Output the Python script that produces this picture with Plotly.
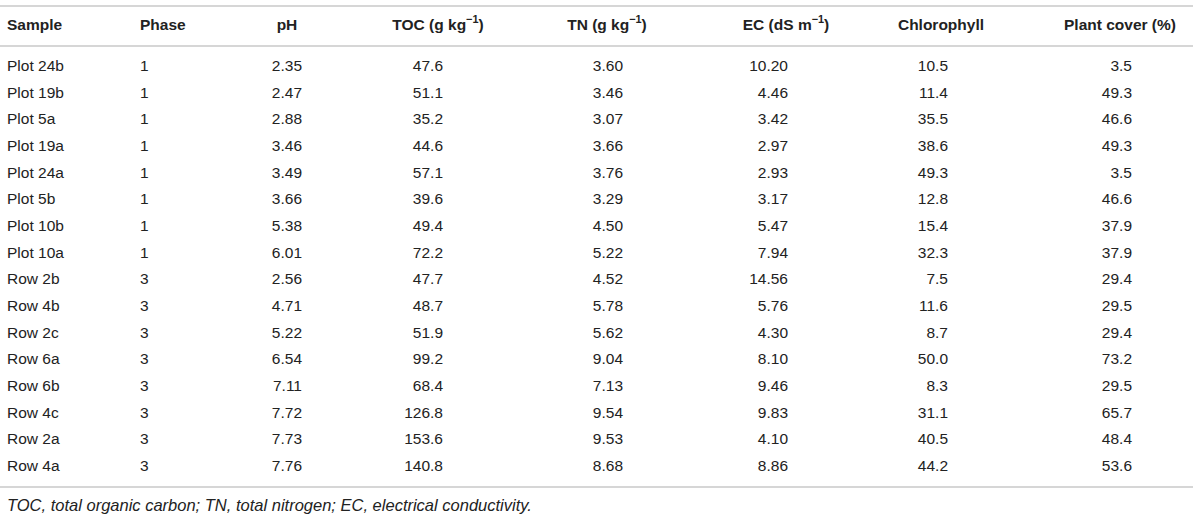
import plotly.graph_objects as go

samples = ['Plot 24b', 'Plot 19b', 'Plot 5a', 'Plot 19a', 'Plot 24a', 'Plot 5b', 'Plot 10b', 'Plot 10a',
           'Row 2b', 'Row 4b', 'Row 2c', 'Row 6a', 'Row 6b', 'Row 4c', 'Row 2a', 'Row 4a']
phase = ['1', '1', '1', '1', '1', '1', '1', '1', '3', '3', '3', '3', '3', '3', '3', '3']
ph = ['2.35', '2.47', '2.88', '3.46', '3.49', '3.66', '5.38', '6.01',
      '2.56', '4.71', '5.22', '6.54', '7.11', '7.72', '7.73', '7.76']
toc = ['47.6', '51.1', '35.2', '44.6', '57.1', '39.6', '49.4', '72.2',
       '47.7', '48.7', '51.9', '99.2', '68.4', '126.8', '153.6', '140.8']
tn = ['3.60', '3.46', '3.07', '3.66', '3.76', '3.29', '4.50', '5.22',
      '4.52', '5.78', '5.62', '9.04', '7.13', '9.54', '9.53', '8.68']
ec = ['10.20', '4.46', '3.42', '2.97', '2.93', '3.17', '5.47', '7.94',
      '14.56', '5.76', '4.30', '8.10', '9.46', '9.83', '4.10', '8.86']
chlorophyll = ['10.5', '11.4', '35.5', '38.6', '49.3', '12.8', '15.4', '32.3',
               '7.5', '11.6', '8.7', '50.0', '8.3', '31.1', '40.5', '44.2']
plant_cover = ['3.5', '49.3', '46.6', '49.3', '3.5', '46.6', '37.9', '37.9',
               '29.4', '29.5', '29.4', '73.2', '29.5', '65.7', '48.4', '53.6']

headers = ['Sample', 'Phase', 'pH', 'TOC (g kg<sup>−1</sup>)', 'TN (g kg<sup>−1</sup>)',
           'EC (dS m<sup>−1</sup>)', 'Chlorophyll', 'Plant cover (%)']
caption = 'TOC, total organic carbon; TN, total nitrogen; EC, electrical conductivity.'

columns = [samples, phase, ph, toc, tn, ec, chlorophyll, plant_cover]

# layout (pixel-ish coordinates)
header_x = [7, 140, 287, 438, 607, 786, 941, 1120]
header_pos = ['middle right', 'middle right', 'middle center', 'middle center', 'middle center',
              'middle center', 'middle center', 'middle center']
cell_x = [7, 140, 302, 443, 623, 788, 948, 1132]
cell_pos = ['middle right', 'middle right'] + ['middle left'] * 6
header_y = 26
row_y0 = 67
row_h = 26.67

font = dict(family='Liberation Sans, Arial, sans-serif', size=15.5, color='#222222')

fig = go.Figure()

for i, col in enumerate(columns):
    fig.add_trace(go.Scatter(
        x=[cell_x[i]] * len(col),
        y=[row_y0 + k * row_h for k in range(len(col))],
        text=col, mode='text', textposition=cell_pos[i],
        textfont=font, hoverinfo='skip', showlegend=False))

fig.add_trace(go.Scatter(
    x=header_x, y=[header_y] * len(headers),
    text=['<b>' + h + '</b>' for h in headers], mode='text',
    textposition=header_pos, textfont=font, hoverinfo='skip', showlegend=False))

fig.add_trace(go.Scatter(
    x=[7], y=[507], text=['<i>' + caption + '</i>'], mode='text',
    textposition='middle right', textfont=dict(font, size=16.5),
    hoverinfo='skip', showlegend=False))

for yy in [6, 46, 487]:
    fig.add_shape(type='line', x0=0, x1=1193, y0=yy, y1=yy,
                  line=dict(color='#c8c8c8', width=1.5))

fig.update_xaxes(range=[0, 1200], visible=False, fixedrange=True)
fig.update_yaxes(range=[518, 0], visible=False, fixedrange=True)
fig.update_layout(width=1200, height=518, margin=dict(l=0, r=0, t=0, b=0),
                  plot_bgcolor='white', paper_bgcolor='white')

# drop the page's default body margin so the figure sits at 0,0
fig.write_html('out.html', config={'displayModeBar': False},
               post_script="document.body.style.margin='0px';")
